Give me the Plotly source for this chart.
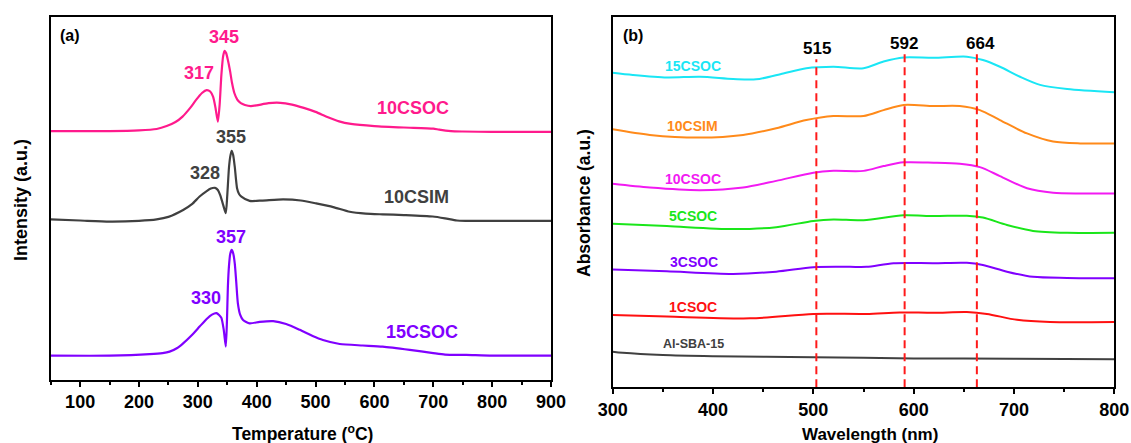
import plotly.graph_objects as go

W, H = 1131, 443

# ---------------- Panel (a): TPR-like curves ----------------
temp_10csoc = [50, 150, 200, 230, 247, 262, 274, 287, 297, 307, 315, 321, 326, 330, 334, 337, 340, 343,
               345.5, 348, 351, 355, 358, 362, 367, 373, 380, 390, 400, 420, 440, 460, 480, 500, 520,
               540, 560, 600, 650, 700, 710, 730, 750, 800, 900]
int_10csoc = [68.5, 68.5, 68.7, 69.1, 69.9, 71.0, 72.5, 74.9, 77.1, 79.0, 79.8, 79.4, 77.9, 74.9, 71.1,
              75.7, 84.0, 89.2, 90.6, 90.0, 88.1, 84.8, 81.8, 79.0, 77.2, 76.2, 75.7, 75.4, 75.6, 76.2,
              76.3, 75.8, 74.9, 73.8, 72.4, 71.2, 70.5, 69.9, 69.5, 69.2, 68.9, 68.5, 68.4, 68.3, 68.3]

temp_10csim = [50, 100, 150, 200, 230, 250, 275, 290, 303, 315, 322, 329, 334, 338, 343, 347.5, 350, 353,
               355.5, 357.5, 360, 362.7, 366.6, 370, 374, 388, 410, 445, 475, 501, 530, 558, 585, 614,
               650, 699, 720, 740, 755, 800, 900]
int_10csim = [44.2, 43.9, 43.6, 43.8, 44.2, 44.9, 46.8, 48.4, 50.5, 52.0, 52.7, 52.9, 52.3, 50.9, 48.2,
              45.9, 50.9, 58.7, 61.9, 63.1, 61.9, 58.7, 52.8, 51.2, 50.5, 49.3, 49.4, 49.7, 49.4, 48.6,
              47.6, 46.3, 45.8, 45.6, 45.4, 45.0, 44.5, 43.9, 43.8, 43.8, 43.8]

temp_15csoc = [50, 150, 218, 240, 252, 265, 275, 290, 303, 315, 324, 331.5, 336, 340, 344, 347.5, 349.5,
               351, 353, 355, 357.5, 360, 362.7, 365, 368, 372, 376.8, 388, 405, 428, 450, 473, 495,
               512.5, 541, 580, 614, 660, 700, 720, 756, 800, 900]
int_15csoc = [6.7, 6.7, 7.1, 7.4, 7.8, 8.8, 10.1, 12.4, 14.7, 16.8, 18.0, 18.4, 17.9, 17.1, 13.8, 9.2,
              16.5, 25.6, 31.6, 34.7, 35.8, 34.9, 32.1, 27.5, 21.1, 17.9, 16.5, 15.6, 16.0, 16.2, 15.4,
              13.8, 12.1, 11.0, 9.9, 9.5, 9.2, 8.3, 7.4, 7.0, 6.9, 6.7, 6.7]

# peak labels (text, x, y) and sample labels
peaks_a_text = ["345", "317", "355", "328", "357", "330"]
peaks_a_x = [344.5, 302, 357, 311.8, 357, 313.5]
peaks_a_y = [94.5, 84.4, 66.8, 57.1, 39.4, 22.5]
peaks_a_col = ["#FF1A8C", "#FF1A8C", "#404040", "#404040", "#8000FF", "#8000FF"]

names_a = ["10CSOC", "10CSIM", "15CSOC"]
names_a_x = [666, 671, 681]
names_a_y = [75.0, 50.5, 13.3]
colors_a = ["#FF1A8C", "#404040", "#8000FF"]

# ---------------- Panel (b): UV-vis ----------------
wl_15csoc = [300, 320, 354, 387, 420, 443, 470, 493, 520, 550, 570, 590, 620, 653, 669, 686, 706, 726, 753, 800]
ab_15csoc = [84.9, 84.3, 83.6, 83.8, 83.2, 83.1, 84.7, 86.1, 86.5, 86.1, 87.9, 89.0, 88.9, 89.2, 88.3,
             86.5, 83.8, 81.6, 80.5, 79.6]

wl_10csim = [300, 337, 387, 430, 463, 493, 520, 550, 570, 590, 620, 646, 666, 686, 713, 739, 766, 800]
ab_10csim = [69.6, 68.1, 67.4, 68.1, 69.9, 72.1, 73.2, 73.2, 74.8, 76.2, 75.9, 75.9, 74.8, 72.1, 68.5,
             66.3, 65.8, 65.8]

wl_10csoc = [300, 337, 387, 430, 463, 500, 520, 550, 570, 590, 620, 646, 666, 686, 713, 739, 766, 800]
ab_10csoc = [54.9, 53.9, 53.2, 53.9, 55.7, 57.9, 58.4, 58.4, 59.7, 60.7, 60.6, 60.3, 59.4, 57.0, 53.7,
             52.5, 52.3, 52.3]

wl_5csoc = [300, 354, 420, 463, 500, 520, 550, 590, 620, 653, 669, 693, 719, 753, 800]
ab_5csoc = [44.1, 43.5, 42.7, 43.2, 44.9, 45.3, 45.1, 46.4, 46.2, 46.3, 45.8, 43.8, 42.2, 41.7, 41.7]

wl_3csoc = [300, 354, 420, 463, 500, 536, 553, 580, 620, 653, 669, 693, 719, 753, 800]
ab_3csoc = [31.8, 31.3, 30.6, 31.2, 32.4, 32.5, 32.5, 33.5, 33.5, 33.6, 33.0, 31.2, 29.8, 29.5, 29.4]

wl_1csoc = [300, 354, 437, 500, 553, 586, 620, 653, 673, 703, 736, 800]
ab_1csoc = [19.5, 19.1, 18.6, 19.8, 19.8, 20.2, 20.1, 20.3, 19.8, 18.2, 17.6, 17.6]

wl_sba = [300, 310, 350, 400, 500, 600, 700, 800]
ab_sba = [9.6, 9.3, 8.7, 8.4, 8.1, 7.8, 7.7, 7.6]

names_b = ["15CSOC", "10CSIM", "10CSOC", "5CSOC", "3CSOC", "1CSOC", "Al-SBA-15"]
colors_b = ["#1AE6F5", "#FF8A1A", "#F21AF2", "#1AE61A", "#8000FF", "#FF1010", "#404040"]
names_b_x = [380, 380, 380, 380, 381, 380, 381]
names_b_y = [86.7, 70.5, 56.1, 46.2, 33.7, 21.7, 11.6]

guide_x = [503, 591, 663]
guide_top = [88.5, 90.7, 90.7]
guide_text = ["515", "592", "664"]
guide_text_x = [503.3, 590.7, 666.4]
guide_text_y = [91.3, 92.8, 92.9]

FONT = "Liberation Sans"

fig = go.Figure()

series_a = [(temp_10csoc, int_10csoc), (temp_10csim, int_10csim), (temp_15csoc, int_15csoc)]
for (xs, ys), c in zip(series_a, colors_a):
    fig.add_trace(go.Scatter(x=xs, y=ys, mode="lines", xaxis="x", yaxis="y",
                             line=dict(color=c, width=2.2, shape="spline", smoothing=0.6),
                             showlegend=False, hoverinfo="skip"))

series_b = [(wl_15csoc, ab_15csoc), (wl_10csim, ab_10csim), (wl_10csoc, ab_10csoc), (wl_5csoc, ab_5csoc),
            (wl_3csoc, ab_3csoc), (wl_1csoc, ab_1csoc), (wl_sba, ab_sba)]
for (xs, ys), c in zip(series_b, colors_b):
    fig.add_trace(go.Scatter(x=xs, y=ys, mode="lines", xaxis="x2", yaxis="y2",
                             line=dict(color=c, width=2.0, shape="spline", smoothing=0.8),
                             showlegend=False, hoverinfo="skip"))

for gx, gt in zip(guide_x, guide_top):
    fig.add_trace(go.Scatter(x=[gx, gx], y=[0, gt], mode="lines", xaxis="x2", yaxis="y2",
                             line=dict(color="#FF1A1A", width=2, dash="8px,5px"),
                             showlegend=False, hoverinfo="skip"))

C = dict(showarrow=False, xanchor="center", yanchor="middle")

ann = []
for t, x, y, c in zip(peaks_a_text, peaks_a_x, peaks_a_y, peaks_a_col):
    ann.append(dict(C, text=t, x=x, y=y, xref="x", yref="y",
                    font=dict(family=FONT, size=18, color=c, weight="bold")))
for t, x, y, c in zip(names_a, names_a_x, names_a_y, colors_a):
    ann.append(dict(C, text=t, x=x, y=y, xref="x", yref="y",
                    font=dict(family=FONT, size=18, color=c, weight="bold")))
for t, x, y, c in zip(names_b, names_b_x, names_b_y, colors_b):
    sz = 12.5 if t == "Al-SBA-15" else 14
    ann.append(dict(C, text=t, x=x, y=y, xref="x2", yref="y2",
                    font=dict(family=FONT, size=sz, color=c, weight="bold")))
for t, x, y in zip(guide_text, guide_text_x, guide_text_y):
    ann.append(dict(C, text=t, x=x, y=y, xref="x2", yref="y2",
                    font=dict(family=FONT, size=17, color="black", weight="bold")))

# panel letters and axis titles (paper coords = pixels here)
def px(x):
    return x / W

def py(y):
    return 1 - y / H

ann += [
    dict(C, text="(a)", x=px(70), y=py(35), xref="paper", yref="paper",
         font=dict(family=FONT, size=16, color="black", weight="bold")),
    dict(C, text="(b)", x=px(633), y=py(35), xref="paper", yref="paper",
         font=dict(family=FONT, size=16, color="black", weight="bold")),
    dict(C, text="Temperature (<sup>o</sup>C)", x=px(302), y=py(433), xref="paper", yref="paper",
         font=dict(family=FONT, size=17.5, color="black", weight="bold")),
    dict(C, text="Wavelength (nm)", x=px(870), y=py(434), xref="paper", yref="paper",
         font=dict(family=FONT, size=17, color="black", weight="bold")),
    dict(C, text="Intensity (a.u.)", x=px(21), y=py(200), xref="paper", yref="paper", textangle=-90,
         font=dict(family=FONT, size=18, color="black", weight="bold")),
    dict(C, text="Absorbance (a.u.)", x=px(584), y=py(203), xref="paper", yref="paper", textangle=-90,
         font=dict(family=FONT, size=17.5, color="black", weight="bold")),
]

common_x = dict(showline=True, linecolor="black", linewidth=1.5, mirror=True, ticks="outside",
                ticklen=5, tickwidth=1.5, tickcolor="black", showgrid=False, zeroline=False,
                automargin=False,
                tickfont=dict(family=FONT, size=18, color="black", weight="bold"),
                minor=dict(ticks="outside", ticklen=3, tickwidth=1.5, tickcolor="black", dtick=50,
                           showgrid=False))
common_y = dict(showline=True, linecolor="black", linewidth=1.5, mirror=True, ticks="",
                automargin=False,
                showticklabels=False, showgrid=False, zeroline=False, range=[0, 100])

fig.update_layout(
    width=W, height=H, margin=dict(l=0, r=0, t=0, b=0, pad=0, autoexpand=False),
    paper_bgcolor="white", plot_bgcolor="white",
    xaxis=dict(common_x, domain=[px(50.7), px(551)], range=[50, 900], tick0=0, dtick=100, anchor="y"),
    yaxis=dict(common_y, domain=[py(380), py(16.7)], anchor="x"),
    xaxis2=dict(common_x, domain=[px(612.7), px(1114.3)], range=[300, 800], tick0=0, dtick=100, anchor="y2"),
    yaxis2=dict(common_y, domain=[py(387.3), py(16.7)], anchor="x2"),
    annotations=ann,
)

fig.write_html("out.html")
